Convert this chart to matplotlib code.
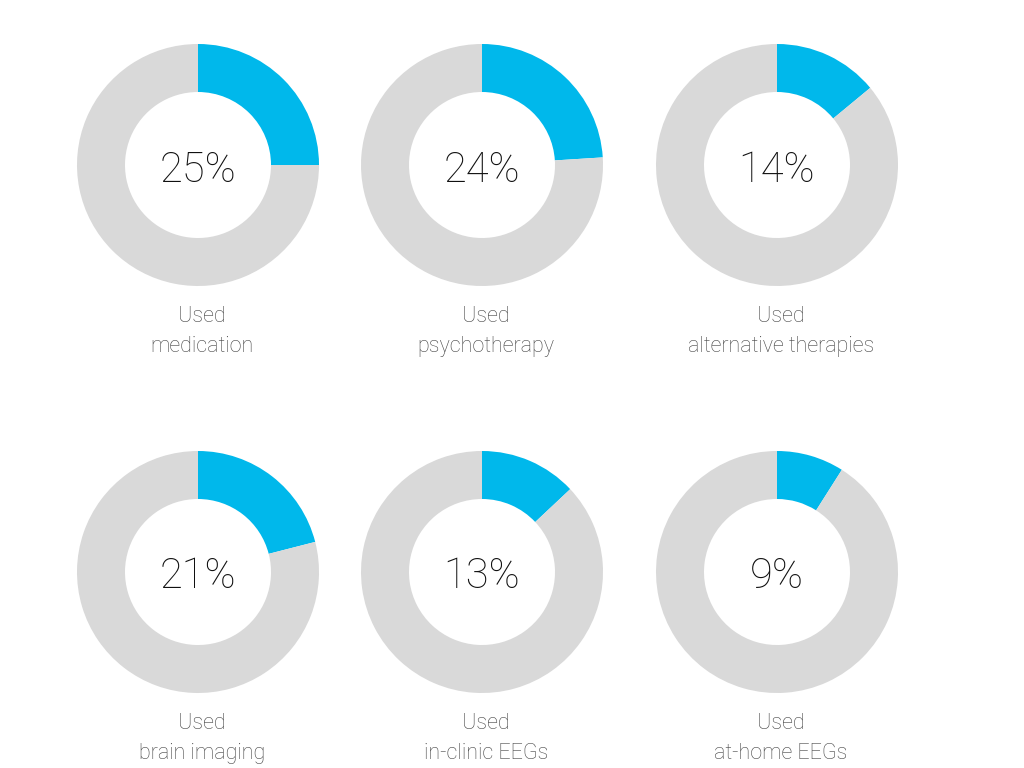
import matplotlib.pyplot as plt

# 數據
labels = ['Used\nmedication', 'Used\npsychotherapy', 'Used\nalternative therapies',
          'Used\nbrain imaging', 'Used\nin-clinic EEGs', 'Used\nat-home EEGs']
values = [25, 24, 14, 21, 13, 9]

blue = '#00b8eb'
gray = '#d9d9d9'

plt.rcParams['font.family'] = ['Roboto', 'DejaVu Sans']

fig = plt.figure(figsize=(10.24, 7.68), dpi=100)
ax = fig.add_axes([0, 0, 1, 1])

col_x = [198, 482, 777]
row_y = [165, 572]

for i, (lab, v) in enumerate(zip(labels, values)):
    cx = col_x[i % 3]
    cy = row_y[i // 3]
    # y 軸反向，所以 counterclock=True 看起來是順時針
    ax.pie([v, 100 - v], colors=[blue, gray], startangle=-90, counterclock=True,
           center=(cx, cy), radius=121, wedgeprops=dict(width=48, linewidth=0),
           frame=True)
    ax.text(cx, cy + 5, f'{v}%', ha='center', va='center', fontsize=30,
            fontweight='light', color='#111111')
    ax.text(cx + 4, cy + 141, lab, ha='center', va='top', fontsize=15.5,
            fontweight='light', color='#444444', linespacing=1.55)

ax.set_xlim(0, 1024)
ax.set_ylim(768, 0)
ax.set_aspect('equal')
ax.axis('off')
fig.savefig('out.png', dpi=100)
